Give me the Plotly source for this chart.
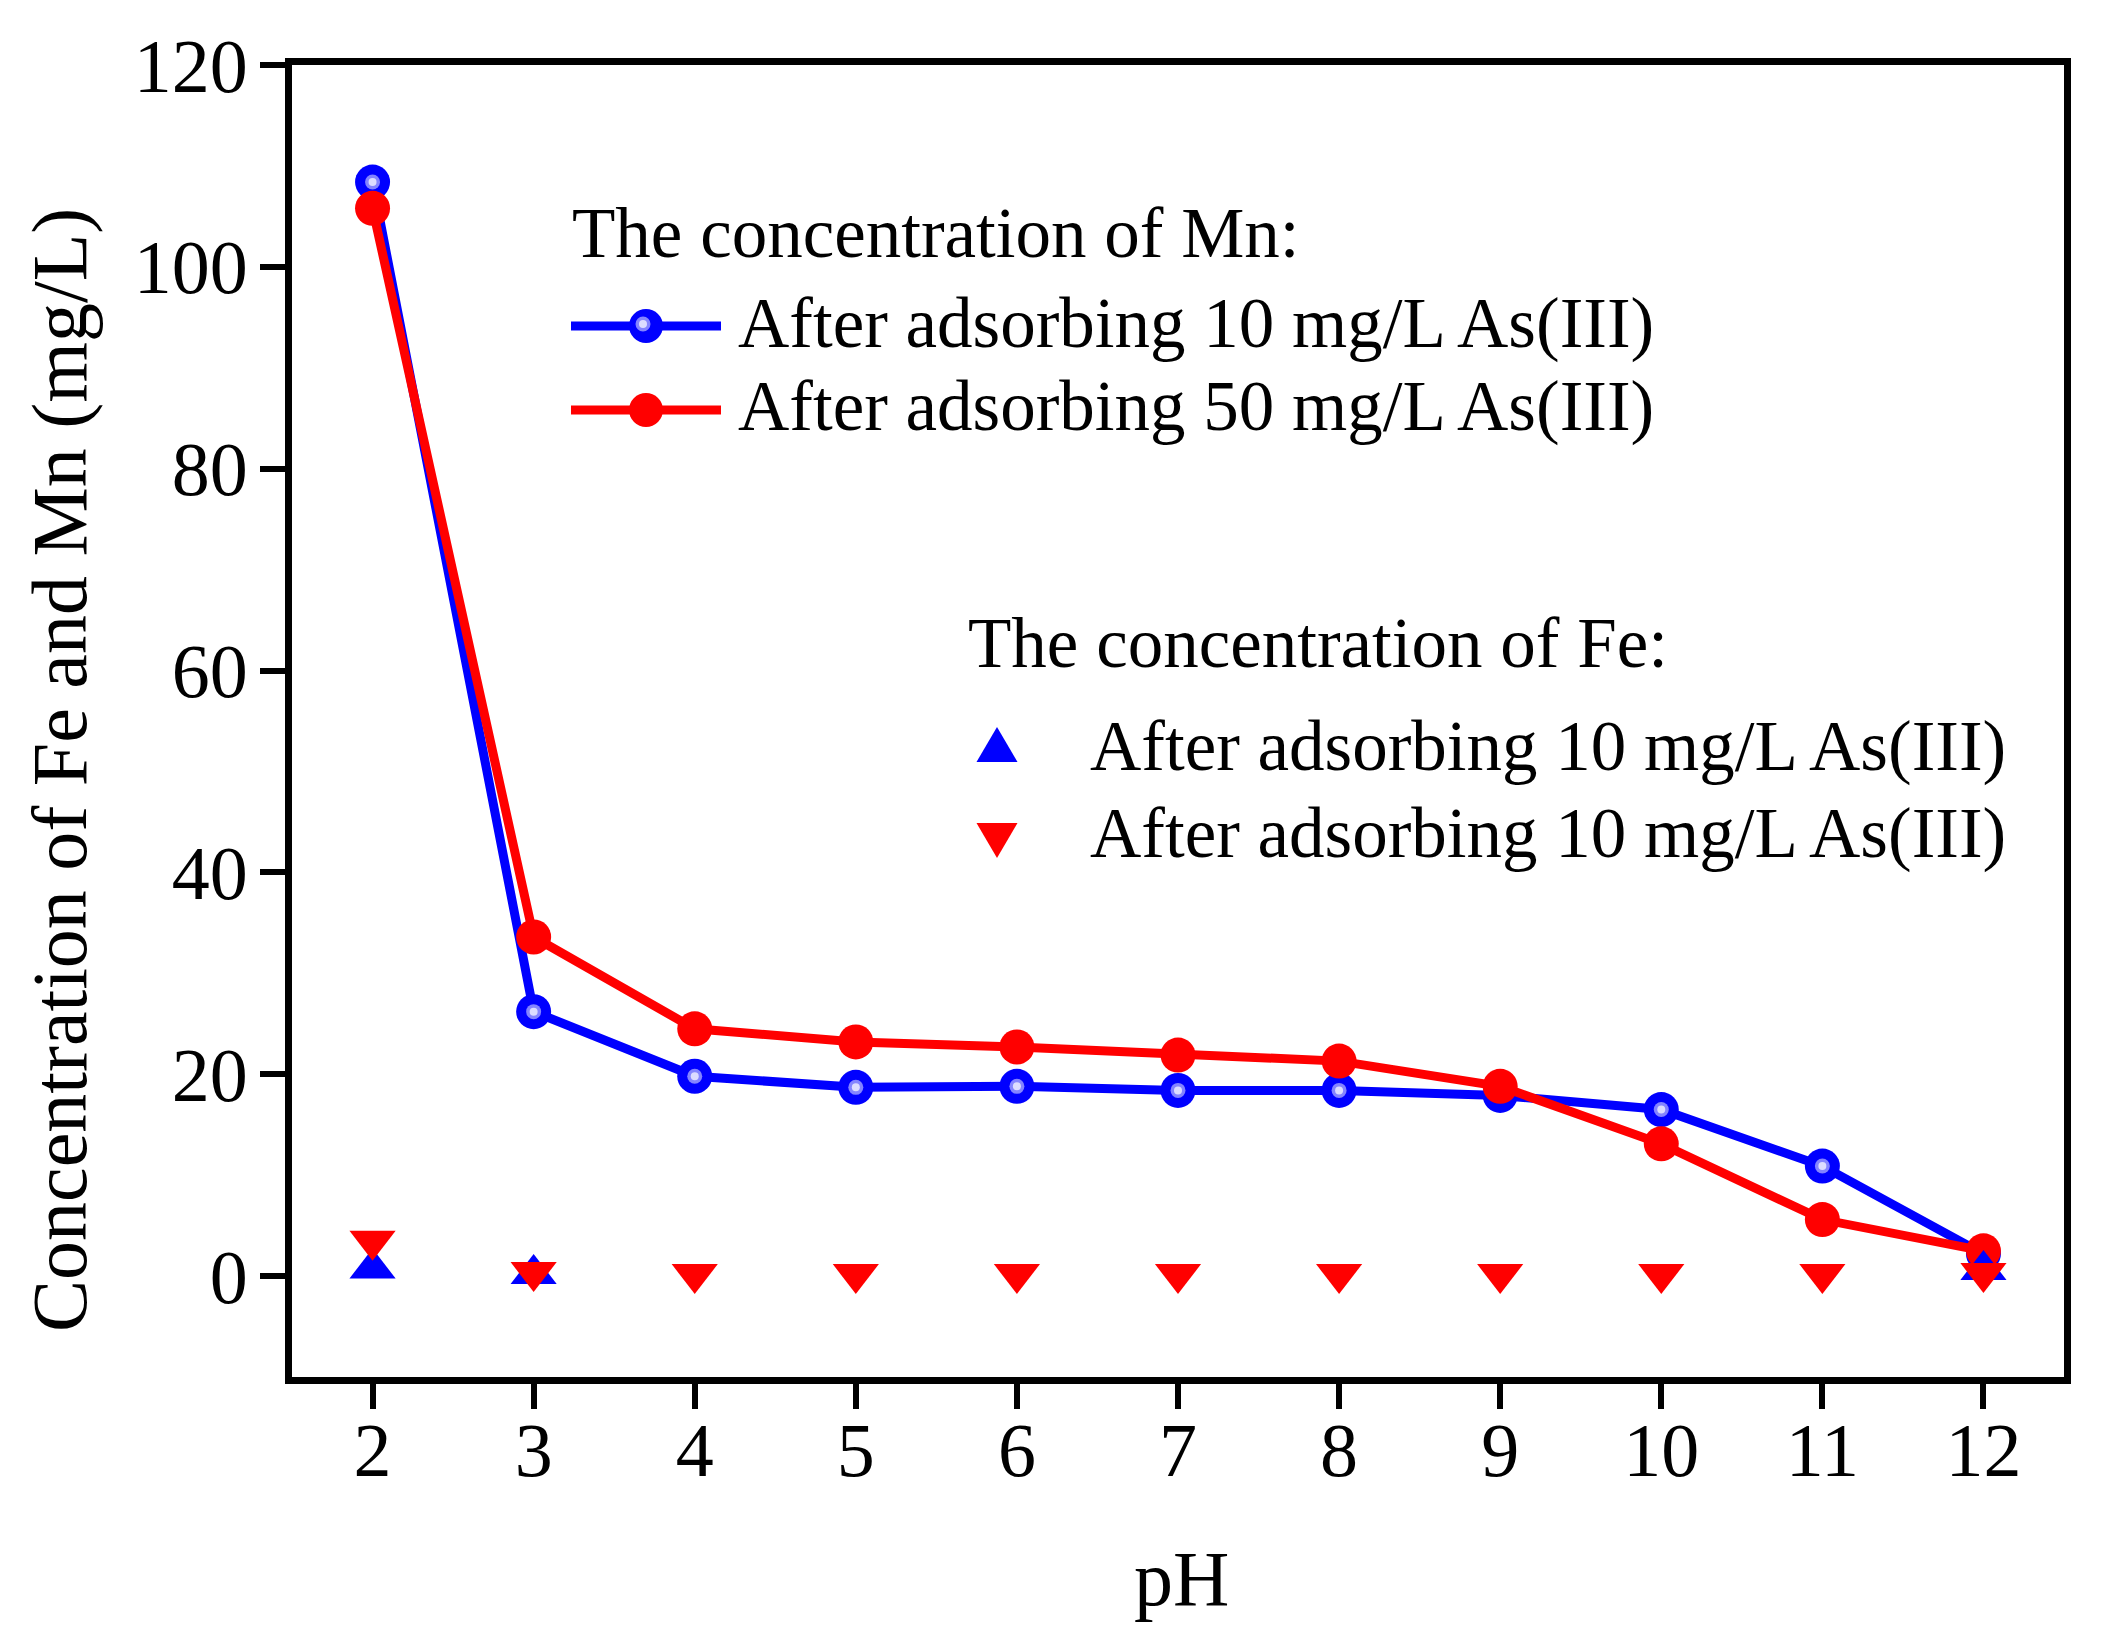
import plotly.graph_objects as go

# ---------------------------------------------------------------
# data
# ---------------------------------------------------------------
ph = [2, 3, 4, 5, 6, 7, 8, 9, 10, 11, 12]

# Mn released (mg/L)
mn_10 = [108.4, 26.2, 19.8, 18.7, 18.8, 18.4, 18.4, 17.9, 16.5, 10.9, 2.2]
mn_50 = [105.8, 33.6, 24.5, 23.2, 22.7, 21.9, 21.3, 18.8, 13.1, 5.6, 2.5]

# Fe released (mg/L) - blue only visible at pH 2, 3 and 12
fe_10 = [0.75, 0.2, None, None, None, None, None, None, None, None, 0.6]
fe_50 = [3.5, 0.4, 0.2, 0.2, 0.2, 0.2, 0.2, 0.2, 0.2, 0.2, 0.3]

y_ticks = [0, 20, 40, 60, 80, 100, 120]

mn_head = "The concentration of Mn:"
fe_head = "The concentration of Fe:"
mn_labels = ["After adsorbing 10 mg/L As(III)", "After adsorbing 50 mg/L As(III)"]
fe_labels = ["After adsorbing 10 mg/L As(III)", "After adsorbing 10 mg/L As(III)"]

# ---------------------------------------------------------------
# page geometry (px, screen coords) - the html body adds an 8px margin
# ---------------------------------------------------------------
W, H = 2106, 1649
OFF = 8
ML, MR, MT, MB = 292 - OFF, 42 + OFF, 65 - OFF, 272 + OFF
PW = W - ML - MR
PH = H - MT - MB

FONT = "Liberation Serif, Times New Roman, serif"
BLUE = "#0000ff"
RED = "#ff0000"


def px(x):
    return (x - OFF - ML) / PW


def py(y):
    return (H - MB + OFF - y) / PH


fig = go.Figure()

# Mn 10 mg/L
fig.add_trace(go.Scatter(
    x=ph, y=mn_10, mode="lines+markers",
    line=dict(color=BLUE, width=9),
    marker=dict(size=35, color=BLUE, line=dict(width=0)),
    showlegend=False, name=mn_labels[0]))
# little shine on the blue balls: light ring + white core
for sz, col in [(15, "#8484ff"), (8, "#dcdcff")]:
    fig.add_trace(go.Scatter(
        x=ph, y=mn_10, mode="markers",
        marker=dict(size=sz, color=col, line=dict(width=0)),
        showlegend=False, hoverinfo="skip"))

# Mn 50 mg/L
fig.add_trace(go.Scatter(
    x=ph, y=mn_50, mode="lines+markers",
    line=dict(color=RED, width=9),
    marker=dict(size=35, color=RED, line=dict(width=0)),
    showlegend=False, name=mn_labels[1]))

# Fe
fig.add_trace(go.Scatter(
    x=ph, y=fe_10, mode="markers",
    marker=dict(symbol="triangle-up", size=40, color=BLUE, line=dict(width=0)),
    showlegend=False, name=fe_labels[0]))
fig.add_trace(go.Scatter(
    x=ph, y=fe_50, mode="markers",
    marker=dict(symbol="triangle-down", size=40, color=RED, line=dict(width=0)),
    showlegend=False, name=fe_labels[1]))

# ---------------------------------------------------------------
# hand made legend (long line samples like the original)
# ---------------------------------------------------------------
shapes = []
annos = []


def text(s, x, y, size=71, **kw):
    annos.append(dict(text=s, x=px(x), y=py(y), xref="paper", yref="paper",
                      xanchor=kw.get("xanchor", "left"), yanchor="middle",
                      showarrow=False, textangle=kw.get("angle", 0),
                      font=dict(family=FONT, size=size, color="black")))


def circle(cx, cy, r, color):
    shapes.append(dict(type="circle", xref="paper", yref="paper",
                       x0=px(cx - r), x1=px(cx + r), y0=py(cy + r), y1=py(cy - r),
                       fillcolor=color, line=dict(width=0)))


text(mn_head, 570, 233)
for i, (lab, col, yy) in enumerate(zip(mn_labels, [BLUE, RED], [326, 410])):
    shapes.append(dict(type="line", xref="paper", yref="paper",
                       x0=px(571), x1=px(721), y0=py(yy), y1=py(yy),
                       line=dict(color=col, width=9)))
    circle(646, yy, 17, col)
    if i == 0:
        circle(643, yy - 2, 7.5, "#8484ff")
        circle(643, yy - 2, 4, "#dcdcff")
    text(lab, 736, yy - 3)

text(fe_head, 966, 643)
tri = [("up", BLUE, 727, 762), ("down", RED, 823, 858)]
for (kind, col, top, bot), lab, yy in zip(tri, fe_labels, [746, 833]):
    if kind == "up":
        path = f"M {px(976.5)},{py(bot)} L {px(1017.5)},{py(bot)} L {px(997)},{py(top)} Z"
    else:
        path = f"M {px(976.5)},{py(top)} L {px(1017.5)},{py(top)} L {px(997)},{py(bot)} Z"
    shapes.append(dict(type="path", xref="paper", yref="paper", path=path,
                       fillcolor=col, line=dict(width=0)))
    text(lab, 1088, yy)

# axis titles
text("Concentration of Fe and Mn (mg/L)", 59, 770, size=78, xanchor="center", angle=-90)
text("pH", 1181, 1578, size=78, xanchor="center")

fig.update_layout(
    width=W, height=H,
    margin=dict(l=ML, r=MR, t=MT, b=MB),
    plot_bgcolor="white", paper_bgcolor="white",
    font=dict(family=FONT, size=76, color="black"),
    shapes=shapes, annotations=annos,
    showlegend=False,
)

fig.update_xaxes(
    range=[1.5, 12.5], tickmode="array", tickvals=ph,
    showgrid=False, zeroline=False,
    showline=True, linewidth=7, linecolor="black", mirror=True,
    ticks="outside", ticklen=25, tickwidth=6, tickcolor="black",
    tickfont=dict(family=FONT, size=76), ticklabelstandoff=-24,
)
fig.update_yaxes(
    range=[-10, 120], tickmode="array", tickvals=y_ticks,
    showgrid=False, zeroline=False,
    showline=True, linewidth=7, linecolor="black", mirror=True,
    ticks="outside", ticklen=25, tickwidth=6, tickcolor="black",
    tickfont=dict(family=FONT, size=76), ticklabelstandoff=-3,
)

fig.write_html("out.html")
